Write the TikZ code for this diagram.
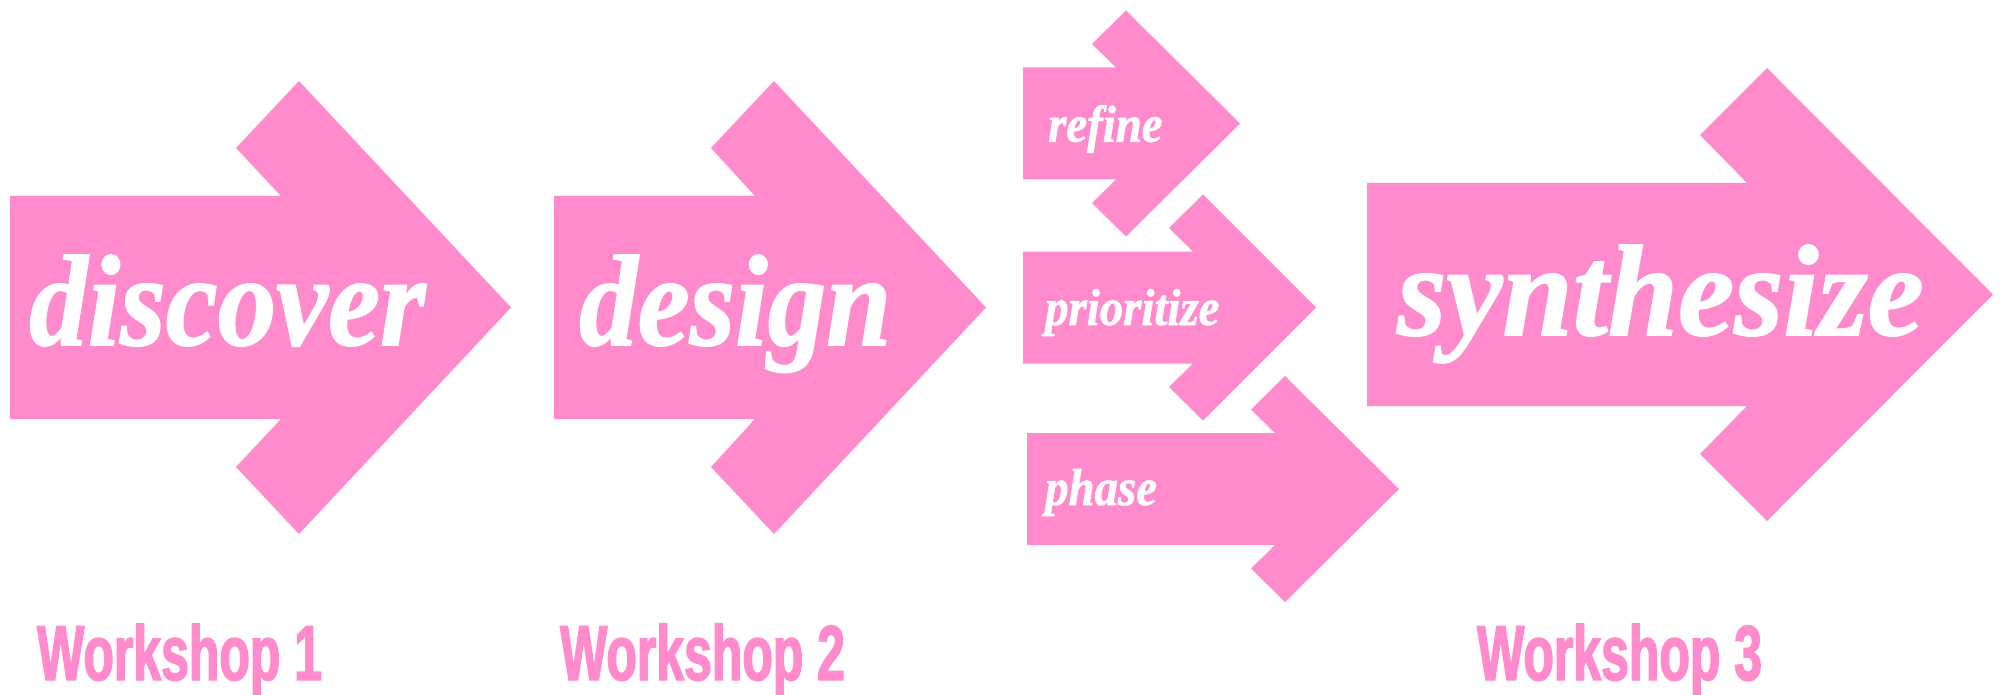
\documentclass[tikz,border=0pt]{standalone}
\usepackage{fontspec}
\usepackage{graphicx}
\newfontface\wordface{Liberation Serif Bold Italic}[FakeStretch=0.9, FakeBold=1.2]
\newfontface\labface{Liberation Sans Bold}[FakeStretch=0.64, FakeBold=1.8]
\definecolor{arrowpink}{HTML}{FF8ACC}

% #1 shaft left, #2 shaft end, #3 notch x, #4 head back x, #5 tip x,
% #6 centre y, #7 shaft half height, #8 notch half height, #9 head half height
\newcommand\pinkarrow[9]{%
  \fill[arrowpink] (#1,{#6-#7}) -- (#2,{#6-#7}) -- (#3,{#6-#8}) -- (#4,{#6-#9})
    -- (#5,#6) -- (#4,{#6+#9}) -- (#3,{#6+#8}) -- (#2,{#6+#7}) -- (#1,{#6+#7}) -- cycle;}

\tikzset{
  bigword/.style={anchor=base west, inner sep=0pt, text=white,
    font=\wordface\fontsize{52}{52}\selectfont},
  smallword/.style={anchor=base west, inner sep=0pt, text=white,
    font=\wordface\fontsize{52}{52}\selectfont},
  wslabel/.style={anchor=base west, inner sep=0pt, text=arrowpink,
    font=\labface\fontsize{78}{78}\selectfont}
}

\begin{document}
\begin{tikzpicture}[x=1pt,y=-1pt]
\useasboundingbox (0,0) rectangle (2005,695);

% main arrows
\pinkarrow{10}{281}{236}{299}{511}{307.5}{111.5}{159.5}{226.5}
\pinkarrow{554}{755}{711}{774}{986}{307.5}{111.5}{159.5}{226.5}
\pinkarrow{1367}{1747}{1700}{1767}{1993}{294.5}{111.5}{159.5}{226.5}

% branch arrows
\pinkarrow{1023}{1116}{1092}{1126}{1240}{123.5}{56}{79.5}{113}
\pinkarrow{1023}{1193}{1169}{1203}{1316}{307.5}{56}{79.5}{113}
\pinkarrow{1027}{1275}{1251}{1285}{1399}{489}{56}{79.5}{113}

% words on the arrows (52pt face enlarged 2.5 times)
\node[bigword] (discover) at (29,345) {\scalebox{2.5}{discover}};
\node[bigword] (design) at (579,345) {\scalebox{2.5}{design}};
\node[bigword] (synthesize) at (1397,335) {\scalebox{2.7}[2.5]{synthesize}};
\node[smallword] (refine) at (1048,141.7) {refine};
\node[smallword] (prioritize) at (1045,325) {prioritize};
\node[smallword] (phase) at (1045,505) {phase};

% workshop labels
\node[wslabel] (ws1) at (37,680) {Workshop 1};
\node[wslabel] (ws2) at (560,680) {Workshop 2};
\node[wslabel] (ws3) at (1477,680) {Workshop 3};
\end{tikzpicture}
\end{document}
